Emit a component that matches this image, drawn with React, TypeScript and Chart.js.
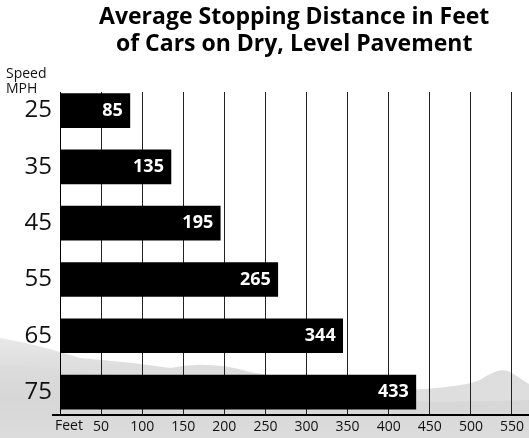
import React, { useEffect, useRef } from "react";
import { Chart, registerables } from "chart.js";

Chart.register(...registerables);

const speeds = [25, 35, 45, 55, 65, 75];
const distances = [85, 135, 195, 265, 344, 433];
const xTickValues = [50, 100, 150, 200, 250, 300, 350, 400, 450, 500, 550];
const titleLines = ["Average Stopping Distance in Feet", "of Cars on Dry, Level Pavement"];
const yAxisTitle = ["Speed", "MPH"];
const xAxisTitle = "Feet";

const FONT = "'Open Sans', 'Noto Sans', sans-serif";

const backgroundPlugin = {
  id: "bgHills",
  beforeDraw(chart: any) {
    const { ctx, width, height } = chart;
    ctx.save();
    ctx.fillStyle = "#ffffff";
    ctx.fillRect(0, 0, width, height);
    // far hills (left)
    const g = ctx.createLinearGradient(0, 330, 0, height);
    g.addColorStop(0, "rgba(215,215,215,0.5)");
    g.addColorStop(0.35, "rgba(210,210,210,0.75)");
    g.addColorStop(1, "rgba(220,220,220,0.85)");
    ctx.fillStyle = g;
    ctx.beginPath();
    ctx.moveTo(0, 338);
    ctx.quadraticCurveTo(40, 345, 80, 358);
    ctx.quadraticCurveTo(130, 362, 170, 368);
    ctx.quadraticCurveTo(210, 360, 250, 372);
    ctx.quadraticCurveTo(320, 385, 400, 390);
    ctx.quadraticCurveTo(460, 388, 480, 380);
    ctx.quadraticCurveTo(500, 366, 510, 372);
    ctx.quadraticCurveTo(520, 378, width, 384);
    ctx.lineTo(width, height);
    ctx.lineTo(0, height);
    ctx.closePath();
    ctx.fill();
    // slightly darker lower haze on left
    const g2 = ctx.createLinearGradient(0, 360, 0, height);
    g2.addColorStop(0, "rgba(190,190,190,0.0)");
    g2.addColorStop(0.5, "rgba(190,190,190,0.25)");
    g2.addColorStop(1, "rgba(200,200,200,0.2)");
    ctx.fillStyle = g2;
    ctx.beginPath();
    ctx.moveTo(0, 365);
    ctx.quadraticCurveTo(120, 372, 260, 395);
    ctx.quadraticCurveTo(400, 405, width, 400);
    ctx.lineTo(width, height);
    ctx.lineTo(0, height);
    ctx.closePath();
    ctx.fill();
    ctx.restore();
  },
};

const decorPlugin = {
  id: "decor",
  afterDatasetsDraw(chart: any) {
    const { ctx, chartArea } = chart;
    const meta = chart.getDatasetMeta(0);
    ctx.save();
    // bar value labels
    ctx.fillStyle = "#ffffff";
    ctx.font = `bold 18px ${FONT}`;
    ctx.textAlign = "right";
    ctx.textBaseline = "middle";
    meta.data.forEach((bar: any, i: number) => {
      ctx.fillText(String(distances[i]), bar.x - 7, bar.y);
    });
    // x axis line
    ctx.strokeStyle = "#000";
    ctx.lineWidth = 2;
    ctx.beginPath();
    ctx.moveTo(52, chartArea.bottom + 1);
    ctx.lineTo(chart.width, chartArea.bottom + 1);
    ctx.stroke();
    // axis titles
    ctx.fillStyle = "#111";
    ctx.textAlign = "left";
    ctx.textBaseline = "alphabetic";
    ctx.font = `14px ${FONT}`;
    ctx.fillText(yAxisTitle[0], 6, 78);
    ctx.fillText(yAxisTitle[1], 6, 93);
    ctx.textBaseline = "middle";
    ctx.fillText(xAxisTitle, 55, 426);
    ctx.restore();
  },
};

export default function App() {
  const ref = useRef<HTMLCanvasElement>(null);
  useEffect(() => {
    document.body.style.margin = "0";
    const chart = new Chart(ref.current!, {
      type: "bar",
      data: {
        datasets: [
          {
            data: speeds.map((s, i) => ({ x: distances[i], y: s })),
            backgroundColor: "#000",
            borderWidth: 0,
            barThickness: 34,
          },
        ],
      },
      options: {
        indexAxis: "y",
        animation: false,
        responsive: false,
        maintainAspectRatio: false,
        layout: { padding: { left: 0, right: 0, top: 0, bottom: 0 } },
        plugins: {
          legend: { display: false },
          tooltip: { enabled: false },
          title: {
            display: true,
            text: titleLines,
            fullSize: false,
            color: "#000",
            font: { family: FONT, size: 23, weight: "bold", lineHeight: "27px" },
            padding: { top: 4, bottom: 34 },
          },
        },
        scales: {
          x: {
            type: "linear",
            min: 0,
            max: 570,
            afterBuildTicks: (s: any) => {
              s.ticks = xTickValues.map((v) => ({ value: v }));
            },
            afterFit: (s: any) => {
              s.height = 24;
            },
            grid: { display: true, color: "#222", lineWidth: 1, drawTicks: false },
            border: { display: false },
            ticks: {
              color: "#111",
              padding: 5,
              maxRotation: 0,
              autoSkip: false,
              font: { family: FONT, size: 14 },
            },
          },
          y: {
            type: "linear",
            reverse: true,
            offset: false,
            min: 21.7,
            max: 78.9,
            afterBuildTicks: (s: any) => {
              s.ticks = speeds.map((v) => ({ value: v }));
            },
            afterFit: (s: any) => {
              s.width = 60;
            },
            grid: { display: false, drawTicks: false, offset: false },
            border: { display: true, color: "#000", width: 1 },
            ticks: {
              color: "#111",
              padding: 8,
              font: { family: FONT, size: 24 },
            },
          },
        },
      },
      plugins: [backgroundPlugin, decorPlugin],
    } as any);
    return () => chart.destroy();
  }, []);
  return (
    <div style={{ width: 529, height: 438, overflow: "hidden", position: "relative" }}>
      <canvas ref={ref} width={529} height={438} style={{ display: "block" }} />
    </div>
  );
}
